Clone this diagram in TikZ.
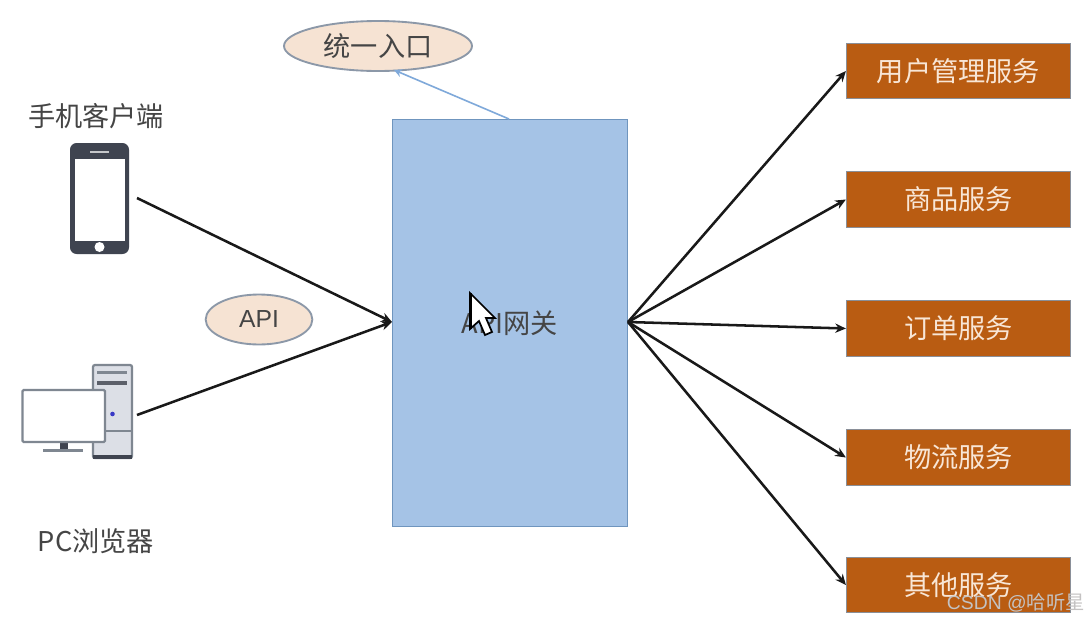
\documentclass[tikz,border=0pt]{standalone}
\usepackage{fontspec}
\setmainfont{Noto Sans CJK SC}
\newfontfamily\wm{Liberation Sans}
\usetikzlibrary{shapes.geometric,arrows.meta}
\definecolor{gate}{HTML}{A5C3E6}
\definecolor{gateline}{HTML}{6F95BE}
\definecolor{uparrow}{HTML}{7FA9DA}
\definecolor{peach}{HTML}{F6E3D3}
\definecolor{oval}{HTML}{8C98A8}
\definecolor{svc}{HTML}{B95C12}
\definecolor{svcline}{HTML}{8A8F98}
\definecolor{ink}{HTML}{454545}
\definecolor{dev}{HTML}{3F4450}
\definecolor{pcline}{HTML}{7F8791}
\definecolor{pcfill}{HTML}{DCDFE6}
\definecolor{svctext}{HTML}{F8E6D6}
\definecolor{mark}{HTML}{C4C2C2}
\tikzset{
  x=0.75pt,y=-0.75pt,
  cjk size/.style={font=\fontsize{20.4}{23}\selectfont},
  label text/.style={text=ink,cjk size,inner sep=0pt},
  bubble/.style={ellipse,draw=oval,line width=1.4pt,fill=peach,inner sep=0pt,text=ink,cjk size},
  service/.style={rectangle,draw=svcline,line width=0.9pt,fill=svc,minimum width=168pt,minimum height=41.5pt,inner sep=0pt,text=svctext,cjk size},
  flow/.style={black!90,line width=1.9pt,-{Stealth[length=8pt,width=7pt]}},
}
\begin{document}
\begin{tikzpicture}
\useasboundingbox (0,0) rectangle (1089,621);
\fill[white] (0,0) rectangle (1089,621);

% gateway
\node[rectangle,draw=gateline,line width=1.2pt,fill=gate,minimum width=176.5pt,minimum height=305.5pt,inner sep=0pt,
  text=ink,cjk size] (gw) at (510,323) {API网关};

% ovals
\node[bubble,minimum width=141pt,minimum height=37.5pt] (entry) at (378,46) {统一入口};
\node[bubble,minimum width=80pt,minimum height=37.5pt,font=\wm\fontsize{18.5}{22}\selectfont] (api) at (259,319.5) {API};

% services
\node[service] (s1) at (958.5,71) {用户管理服务};
\node[service] (s2) at (958.5,199.5) {商品服务};
\node[service] (s3) at (958.5,328.5) {订单服务};
\node[service] (s4) at (958.5,457.5) {物流服务};
\node[service] (s5) at (958.5,585) {其他服务};

% client labels
\node[label text] (mobile) at (96,116) {手机客户端};
\node[label text] (pc) at (96,541) {PC浏览器};

% phone icon
\fill[dev,rounded corners=5pt] (70,143) rectangle (129,254);
\fill[white] (75,159) rectangle (125,241);
\fill[white] (99.5,247) circle (5);
\node[minimum width=0pt,inner sep=0pt] (phone) at (99.5,198) {};
\fill[white!70!dev] (90,151) rectangle (109,152.5);

% pc icon
\draw[pcline,fill=pcfill,line width=1.7pt,rounded corners=1.5pt] (93,365) rectangle (132,458);
\fill[dev] (93,455) rectangle (132,458.5);
\fill[pcline] (97,371) rectangle (127,374);
\fill[dev!85!white] (97,381) rectangle (127,385);
\draw[pcline,line width=0.8pt] (93,431) -- (132,431);
\fill[blue!55!gray] (112.5,414) circle (2.3);
\fill[dev] (60,441) rectangle (68,450);
\fill[pcline] (43,449) rectangle (83,452);
\draw[pcline,fill=white,line width=1.7pt,rounded corners=1pt] (22.5,390) rectangle (105,442);
\node[inner sep=0pt] (computer) at (77,414) {};

% connectors
\coordinate (phoneout) at (137,198);
\coordinate (pcout) at (137,415);
\coordinate (gwin) at (392,322);
\coordinate (gwout) at (628,322);
\coordinate (gwtop) at (509,119);
\draw[flow] (phoneout) -- (gwin);
\draw[flow] (pcout) -- (gwin);
\draw[flow] (gwout) -- (s1.west);
\draw[flow] (gwout) -- (s2.west);
\draw[flow] (gwout) -- (s3.west);
\draw[flow] (gwout) -- (s4.west);
\draw[flow] (gwout) -- (s5.west);
\draw[uparrow,line width=1.2pt,-{Stealth[length=6pt,width=6pt]}] (gwtop) -- (394,70);

% pointer over the gateway label
\draw[black,line width=1.3pt,fill=white,line join=miter]
  (470,293) -- (470,329) -- (479,321) -- (485,335) -- (492,332) -- (486,318) -- (495,318) -- cycle;
\draw[black,line width=2.2pt] (471,293) -- (471,329);

% watermark
\node[text=mark,font=\wm\fontsize{14.5}{16}\selectfont,inner sep=0pt,anchor=east] (marktext) at (1085,603) {CSDN @{\fontspec{Noto Sans CJK SC}哈听星}};
\end{tikzpicture}
\end{document}
